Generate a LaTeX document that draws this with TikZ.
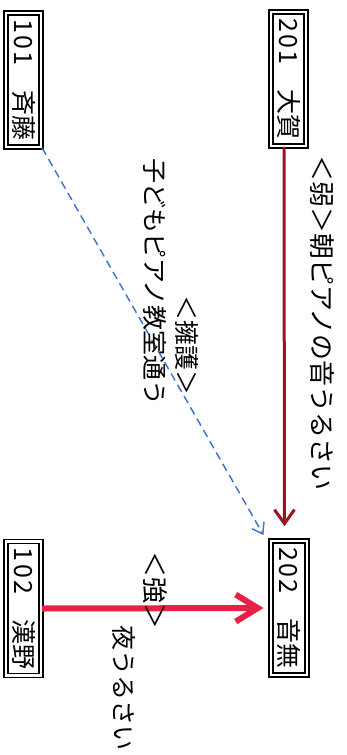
\documentclass[tikz,border=0pt]{standalone}
\usepackage{fontspec}
\newfontfamily\jp{Noto Sans CJK JP}
\newfontfamily\jpd[LetterSpace=9]{Noto Sans CJK JP}
\usetikzlibrary{arrows.meta}
\definecolor{darkred}{RGB}{155,20,35}
\definecolor{brightred}{RGB}{232,32,70}
\definecolor{dashblue}{RGB}{60,110,210}
\begin{document}
\begin{tikzpicture}[x=1pt,y=-1pt,
  box/.style={draw, double, double distance=2.4pt, line width=1.6pt,
    minimum width=35.5pt, minimum height=134pt, inner sep=0pt,
    font=\jp\fontsize{25pt}{25pt}\selectfont},
  lbl/.style={rotate=-90, anchor=west, inner sep=0pt,
    font=\jp\fontsize{25pt}{25pt}\selectfont}]
\useasboundingbox[fill=white] (0,0) rectangle (346,755);

\node[box] (b101) at (23.5,80) {\rotatebox{-90}{{\jpd 101}　斉藤}};
\node[box] (b201) at (288.5,79) {\rotatebox{-90}{{\jpd 201}　大賀}};
\node[box] (b102) at (23.5,608.5) {\rotatebox{-90}{{\jpd 102}　漢野}};
\node[box] (b202) at (289,608) {\rotatebox{-90}{{\jpd 202}　音無}};

\draw[darkred, line width=3pt, -{Straight Barb[length=14pt,width=20pt]}, shorten >=14pt]
  ([xshift=-4.5pt]b201.south) -- ([xshift=-4.5pt]b202.north);
\draw[dashblue, line width=1.4pt, dash pattern=on 8pt off 5pt,
  -{Straight Barb[length=10pt,width=14pt]}, shorten >=6pt]
  (b101.south east) -- ([xshift=-4pt]b202.north west);
\draw[brightred, line width=6pt, -{Straight Barb[length=22pt,width=27pt]}, shorten >=7pt]
  (b102.east) -- (b202.west);

\node[lbl, font=\jp\fontsize{26pt}{26pt}\selectfont] (t1) at (322,155) {＜弱＞朝ピアノの音うるさい};
\node[lbl] (t2) at (187,295) {＜擁護＞};
\node[lbl] (t3) at (155,158) {子どもピアノ教室通う};
\node[lbl, font=\jp\fontsize{26pt}{26pt}\selectfont] (t4) at (155,551) {＜強＞};
\node[lbl] (t5) at (124,625) {夜うるさい};
\end{tikzpicture}
\end{document}
